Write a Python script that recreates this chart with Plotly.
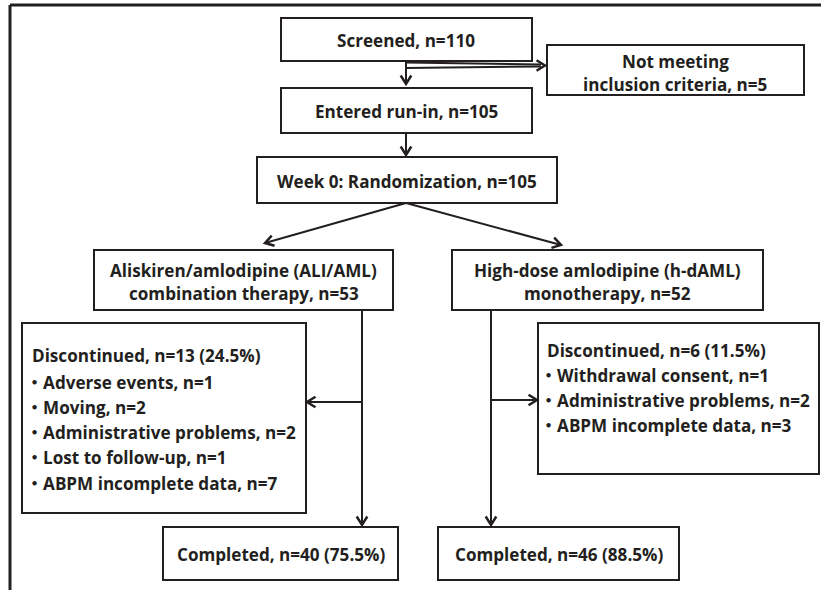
import math
import plotly.graph_objects as go

# ---------------- data ----------------
screened_n = 110
excluded_n = 5
runin_n = 105
randomized_n = 105
arm_names = ["Aliskiren/amlodipine (ALI/AML)", "High-dose amlodipine (h-dAML)"]
arm_kinds = ["combination therapy", "monotherapy"]
arm_n = [53, 52]
discontinued_n = [13, 6]
discontinued_pct = [24.5, 11.5]
reasons_ali = ["Adverse events", "Moving", "Administrative problems", "Lost to follow-up", "ABPM incomplete data"]
reasons_ali_n = [1, 2, 2, 1, 7]
reasons_hd = ["Withdrawal consent", "Administrative problems", "ABPM incomplete data"]
reasons_hd_n = [1, 2, 3]
completed_n = [40, 46]
completed_pct = [75.5, 88.5]

# ---------------- style ----------------
W, H = 821, 590
LC = "#231f20"
TC = "#231f20"
FONT = "'Open Sans', 'Noto Sans CJK JP', sans-serif"
FS = 17.1

fig = go.Figure()
fig.add_trace(go.Scatter(x=[0, W], y=[0, H], mode="markers", marker=dict(opacity=0), hoverinfo="skip", showlegend=False))

shapes = []
annots = []


def box(x0, y0, x1, y1):
    shapes.append(dict(type="rect", x0=x0, y0=y0, x1=x1, y1=y1, line=dict(color=LC, width=2), fillcolor="white", layer="above"))


def line(x0, y0, x1, y1, w=2):
    shapes.append(dict(type="line", x0=x0, y0=y0, x1=x1, y1=y1, line=dict(color=LC, width=w)))


def head(x0, y0, x1, y1, size=10, ang=32):
    dx, dy = x1 - x0, y1 - y0
    L = math.hypot(dx, dy)
    ux, uy = dx / L, dy / L
    pts = []
    for s in (1, -1):
        a = math.radians(ang) * s
        rx = ux * math.cos(a) - uy * math.sin(a)
        ry = ux * math.sin(a) + uy * math.cos(a)
        pts.append((x1 - size * rx, y1 - size * ry))
    path = f"M {pts[0][0]},{pts[0][1]} L {x1},{y1} L {pts[1][0]},{pts[1][1]}"
    shapes.append(dict(type="path", path=path, line=dict(color=LC, width=2.5)))


def arrow(x0, y0, x1, y1):
    line(x0, y0, x1, y1)
    head(x0, y0, x1, y1)


def text(x, y, s, anchor="center"):
    annots.append(dict(x=x, y=y, text=s, showarrow=False, xanchor=anchor, yanchor="middle",
                       font=dict(family=FONT, size=FS, color=TC, weight="bold")))


# frame
line(10, 5, W + 5, 5, w=3)
line(10, 5, 10, H + 5, w=3)

# top chain
box(281, 18, 532, 61)
text(406, 40, f"Screened, n={screened_n}")
box(547, 45, 804, 95)
text(675, 61, "Not meeting")
text(675, 84, f"inclusion criteria, n={excluded_n}")
arrow(406, 61, 406, 84)
line(406, 62.5, 541, 64.5)
line(406, 68, 541, 66.5)
head(406, 65.5, 545, 65.5)

box(281, 88, 532, 133)
text(406, 111, f"Entered run-in, n={runin_n}")
arrow(406, 133, 406, 155)

box(257, 157, 557, 203)
text(407, 181, f"Week 0: Randomization, n={randomized_n}")

arrow(406, 203, 265, 243)
arrow(406, 203, 561, 245)

# arms
arm_boxes = [(94, 393), (452, 763)]
for i, (a, b) in enumerate(arm_boxes):
    box(a, 250, b, 310)
    text((a + b) / 2, 270, arm_names[i])
    text((a + b) / 2, 293, f"{arm_kinds[i]}, n={arm_n[i]}")

vx = [362, 491]
for x in vx:
    arrow(x, 310, x, 525)

# discontinued boxes
box(22, 323, 306, 513)
arrow(362, 402, 307, 402)
text(30, 355, f"Discontinued, n={discontinued_n[0]} ({discontinued_pct[0]}%)", anchor="left")
for k, (r, n) in enumerate(zip(reasons_ali, reasons_ali_n)):
    text(24, 382 + 25.3 * k, f"・{r}, n={n}", anchor="left")

box(538, 323, 819, 474)
arrow(491, 400, 537, 400)
text(545, 350, f"Discontinued, n={discontinued_n[1]} ({discontinued_pct[1]}%)", anchor="left")
for k, (r, n) in enumerate(zip(reasons_hd, reasons_hd_n)):
    text(538, 375 + 25 * k, f"・{r}, n={n}", anchor="left")

# completed
comp_boxes = [(163, 398), (438, 679)]
for i, (a, b) in enumerate(comp_boxes):
    box(a, 527, b, 580)
    text((a + b) / 2, 554, f"Completed, n={completed_n[i]} ({completed_pct[i]}%)")

fig.update_layout(
    width=W, height=H, margin=dict(l=0, r=0, t=0, b=0),
    paper_bgcolor="white", plot_bgcolor="white",
    xaxis=dict(range=[0, W], visible=False, fixedrange=True),
    yaxis=dict(range=[H, 0], visible=False, fixedrange=True),
    shapes=shapes, annotations=annots, showlegend=False,
)
fig.write_html("out.html", config={"displayModeBar": False},
               post_script="document.body.style.margin='0';document.body.style.overflow='hidden';")
